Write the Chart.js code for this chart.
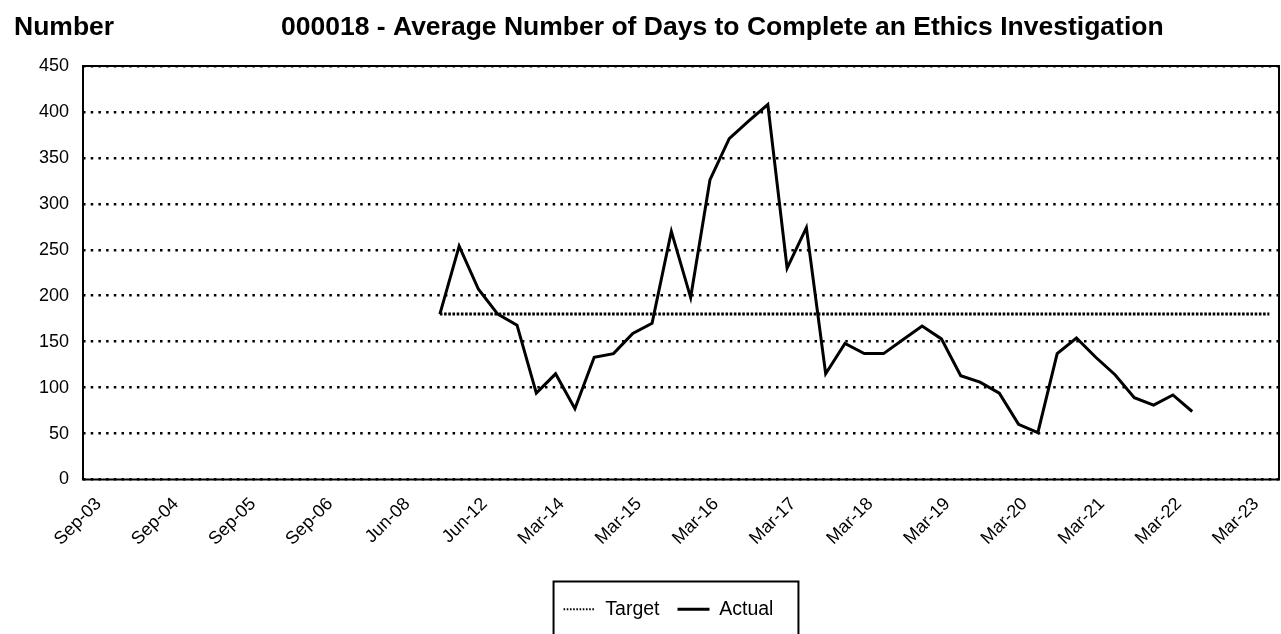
<!DOCTYPE html>
<html>
<head>
<meta charset="utf-8">
<title>000018 - Average Number of Days to Complete an Ethics Investigation</title>
<script src="https://cdn.jsdelivr.net/npm/chart.js@4.4.1/dist/chart.umd.min.js"></script>
<style>
  html, body { margin: 0; padding: 0; background: #fff; }
</style>
</head>
<body>
<canvas id="kpiChart" width="1281" height="634"></canvas>
<script>
// Axis labels, one for every four reporting periods
const tickLabels = ['Sep-03', 'Sep-04', 'Sep-05', 'Sep-06', 'Jun-08', 'Jun-12', 'Mar-14', 'Mar-15',
    'Mar-16', 'Mar-17', 'Mar-18', 'Mar-19', 'Mar-20', 'Mar-21', 'Mar-22', 'Mar-23'];
const periodsPerLabel = 4;
const periodCount = 62;
const firstReported = 18; // first period with a measurement

// Average days to complete an investigation, from the first reported period
const actualValues = [180, 254, 207, 180, 168, 94, 115, 77, 133, 137, 159, 170, 270, 198, 326, 371,
    390, 408, 230, 274, 115, 148, 137, 137, 152, 167, 153, 113, 106, 94, 60, 51, 137, 154, 133, 114,
    89, 81, 92, 74];
const targetValues = [180, 180, 180, 180, 180, 180, 180, 180, 180, 180, 180, 180, 180, 180, 180,
    180, 180, 180, 180, 180, 180, 180, 180, 180, 180, 180, 180, 180, 180, 180, 180, 180, 180, 180,
    180, 180, 180, 180, 180, 180, 180, 180, 180, 180];

const yMin = 0;
const yMax = 450;
const yStep = 50;

const FONT = 'Arial, "Liberation Sans", sans-serif';

// legend sample strokes (the point style options carry no dash)
const legendStrokes = {
    Target: {lineWidth: 2, lineDash: [1.6, 1.6]},
    Actual: {lineWidth: 3, lineDash: []}
};

// one category per period, only every fourth one is labelled
const categories = [];
for (let i = 0; i < periodCount; i++) {
    categories.push(i % periodsPerLabel === 0 ? (tickLabels[i / periodsPerLabel] || '') : '');
}

function fromFirstReported(values) {
    return new Array(firstReported).fill(null).concat(values);
}

// Header text: measure type on the left, KPI title next to it
const headerPlugin = {
    id: 'header',
    afterDraw(chart) {
        const ctx = chart.ctx;
        ctx.save();
        ctx.fillStyle = '#000';
        ctx.font = 'bold 26.5px ' + FONT;
        ctx.textBaseline = 'alphabetic';
        ctx.fillText('Number', 14, 35);
        ctx.fillText('000018 - Average Number of Days to Complete an Ethics Investigation', 281, 35);
        ctx.restore();
    }
};

// Solid frame round the plot area
const framePlugin = {
    id: 'frame',
    beforeDatasetsDraw(chart) {
        const {ctx, chartArea: a} = chart;
        ctx.save();
        ctx.strokeStyle = '#000';
        ctx.lineWidth = 2;
        ctx.strokeRect(a.left, a.top, a.right - a.left, a.bottom - a.top);
        ctx.restore();
    }
};

// Legend sits a little right of the page centre, inside an open-bottomed box
const legendBoxPlugin = {
    id: 'legendBox',
    afterLayout(chart) {
        chart.legend.left += 19;
        chart.legend.right += 19;
    },
    afterDraw(chart) {
        const legend = chart.legend;
        const boxes = legend.legendHitBoxes;
        if (!boxes || !boxes.length) return;
        const last = boxes[boxes.length - 1];
        const left = boxes[0].left - 10;
        const right = last.left + last.width + 25;
        const ctx = chart.ctx;
        ctx.save();
        ctx.strokeStyle = '#000';
        ctx.lineWidth = 2;
        ctx.beginPath();
        ctx.moveTo(left, chart.height + 2);
        ctx.lineTo(left, legend.top);
        ctx.lineTo(right, legend.top);
        ctx.lineTo(right, chart.height + 2);
        ctx.stroke();
        ctx.restore();
    }
};

new Chart(document.getElementById('kpiChart'), {
    type: 'line',
    data: {
        labels: categories,
        datasets: [
            {
                label: 'Target',
                data: fromFirstReported(targetValues),
                borderColor: '#000',
                backgroundColor: '#000',
                borderWidth: 3,
                borderDash: [2.6, 1.6],
                pointRadius: 0,
                pointStyle: 'line',
                tension: 0
            },
            {
                label: 'Actual',
                data: fromFirstReported(actualValues),
                borderColor: '#000',
                backgroundColor: '#000',
                borderWidth: 3,
                pointRadius: 0,
                pointStyle: 'line',
                tension: 0
            }
        ]
    },
    options: {
        responsive: false,
        animation: false,
        layout: {
            padding: {top: 66, left: 20, right: 2, bottom: 5}
        },
        scales: {
            x: {
                offset: true,
                grid: {display: false, drawTicks: false},
                border: {display: false},
                ticks: {
                    autoSkip: false,
                    minRotation: 45,
                    maxRotation: 45,
                    padding: 14,
                    labelOffset: 6,
                    color: '#000',
                    font: {family: FONT, size: 18}
                },
                afterFit(scale) {
                    scale.height = 102;
                    // rotated labels stay under the plot, no side padding needed
                    scale.paddingLeft = 0;
                    scale.paddingRight = 0;
                }
            },
            y: {
                min: yMin,
                max: yMax,
                grid: {color: '#000', lineWidth: 2.5, drawTicks: false},
                border: {display: false, dash: [2.5, 5.2]},
                ticks: {
                    stepSize: yStep,
                    padding: 14,
                    color: '#000',
                    font: {family: FONT, size: 18}
                },
                afterFit(scale) {
                    scale.width = 63;
                }
            }
        },
        plugins: {
            title: {display: false},
            tooltip: {enabled: false},
            legend: {
                position: 'bottom',
                labels: {
                    usePointStyle: true,
                    pointStyle: 'line',
                    pointStyleWidth: 32,
                    padding: 18,
                    color: '#000',
                    font: {family: FONT, size: 19.5},
                    generateLabels(chart) {
                        const items = Chart.defaults.plugins.legend.labels.generateLabels(chart);
                        items.forEach(item => {
                            const stroke = legendStrokes[item.text];
                            if (stroke) {
                                item.lineWidth = stroke.lineWidth;
                                item.lineDash = stroke.lineDash;
                                item.strokeStyle = '#000';
                            }
                        });
                        return items;
                    }
                }
            }
        }
    },
    plugins: [headerPlugin, framePlugin, legendBoxPlugin]
});
</script>
</body>
</html>
